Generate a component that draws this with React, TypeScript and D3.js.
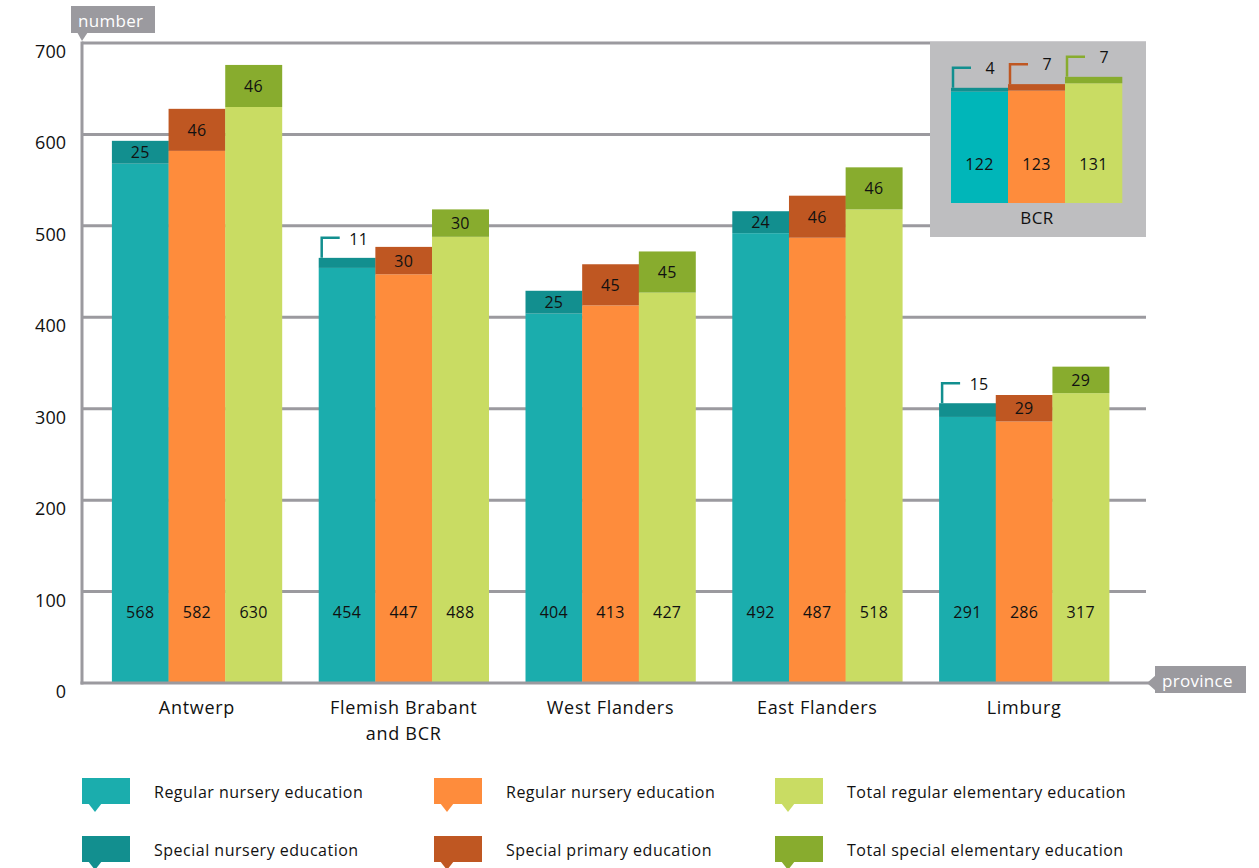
import React from "react";
import * as d3 from "d3";

const provinces = ["Antwerp", "Flemish Brabant|and BCR", "West Flanders", "East Flanders", "Limburg"];
const seriesKeys = ["nursery", "primary", "elementary"];
const regularNursery = [568, 454, 404, 492, 291];
const specialNursery = [25, 11, 25, 24, 15];
const regularPrimary = [582, 447, 413, 487, 286];
const specialPrimary = [46, 30, 45, 46, 29];
const regularElementary = [630, 488, 427, 518, 317];
const specialElementary = [46, 30, 45, 46, 29];
const bcrRegular = [122, 123, 131];
const bcrSpecial = [4, 7, 7];
const yTicks = [0, 100, 200, 300, 400, 500, 600, 700];
const legendLabels = [
  ["Regular nursery education", "Special nursery education"],
  ["Regular nursery education", "Special primary education"],
  ["Total regular elementary education", "Total special elementary education"],
];

const regularColors = ["#1badad", "#fe8c3c", "#c9dc63"];
const specialColors = ["#128f8f", "#bf5722", "#88ac2e"];
const insetRegularColors = ["#00b6b9", "#fe8c3c", "#c9dc63"];
const gridColor = "#9b9a9f";
const FONT = "'Open Sans', 'Noto Sans', sans-serif";

export default function App() {
  const W = 1259, H = 868;
  const y = d3.scaleLinear().domain([0, 700]).range([683, 43]);
  const x0 = d3.scaleBand<string>().domain(provinces).range([93.5, 1127.5]).paddingInner(0.178).paddingOuter(0.089);
  const x1 = d3.scaleBand<string>().domain(seriesKeys).range([0, x0.bandwidth()]);
  const regular = [regularNursery, regularPrimary, regularElementary];
  const special = [specialNursery, specialPrimary, specialElementary];

  // inset
  const insetBase = 203;
  const yIn = (v: number) => insetBase - (683 - y(v));
  const xIn = d3.scaleBand<string>().domain(seriesKeys).range([951, 1122]);

  const bars: React.ReactNode[] = [];
  provinces.forEach((p, i) => {
    seriesKeys.forEach((k, s) => {
      const bx = (x0(p) as number) + (x1(k) as number);
      const bw = x1.bandwidth();
      const r = regular[s][i];
      const sp = special[s][i];
      const yr = y(r);
      const yt = y(r + sp);
      bars.push(<rect key={`r${i}${s}`} x={bx} y={yr} width={bw + 0.3} height={y(0) - yr} fill={regularColors[s]} />);
      bars.push(<rect key={`s${i}${s}`} x={bx} y={yt} width={bw + 0.3} height={yr - yt} fill={specialColors[s]} />);
      bars.push(
        <text key={`tr${i}${s}`} x={bx + bw / 2} y={612} textAnchor="middle" dominantBaseline="central" fontSize={16} letterSpacing={0.3} fill="#111">{r}</text>
      );
      if (sp >= 20) {
        bars.push(
          <text key={`ts${i}${s}`} x={bx + bw / 2} y={(yr + yt) / 2} textAnchor="middle" dominantBaseline="central" fontSize={16} letterSpacing={0.3} fill="#111">{sp}</text>
        );
      } else {
        const lx = bx + 3;
        bars.push(
          <path key={`cl${i}${s}`} d={`M${lx},${yt} V${yt - 20} H${lx + 18}`} fill="none" stroke={specialColors[s]} strokeWidth={2.5} />
        );
        bars.push(
          <text key={`ts${i}${s}`} x={lx + 37} y={yt - 19} textAnchor="middle" dominantBaseline="central" fontSize={16} letterSpacing={0.3} fill="#111">{sp}</text>
        );
      }
    });
  });

  const inset: React.ReactNode[] = [];
  seriesKeys.forEach((k, s) => {
    const bx = xIn(k) as number;
    const bw = xIn.bandwidth();
    const r = bcrRegular[s];
    const sp = bcrSpecial[s];
    const yr = yIn(r);
    const yt = yIn(r + sp);
    inset.push(<rect key={`ir${s}`} x={bx} y={yr} width={bw + 0.3} height={insetBase - yr} fill={insetRegularColors[s]} />);
    inset.push(<rect key={`is${s}`} x={bx} y={yt} width={bw + 0.3} height={yr - yt} fill={specialColors[s]} />);
    inset.push(<text key={`itr${s}`} x={bx + bw / 2} y={164} textAnchor="middle" dominantBaseline="central" fontSize={16} letterSpacing={0.3} fill="#111">{r}</text>);
    const lx = bx + 2;
    inset.push(<path key={`icl${s}`} d={`M${lx},${yt} V${yt - 20} H${lx + 18}`} fill="none" stroke={specialColors[s]} strokeWidth={2.5} />);
    inset.push(<text key={`its${s}`} x={lx + 37} y={yt - 20} textAnchor="middle" dominantBaseline="central" fontSize={16} fill="#111">{sp}</text>);
  });

  return (
    <svg width={W} height={H} style={{ position: "absolute", left: 0, top: 0, fontFamily: FONT }}>
      <rect x={0} y={0} width={W} height={H} fill="#fff" />
      {yTicks.filter((t) => t > 0).map((t) => (
        <line key={`g${t}`} x1={82} x2={1146} y1={y(t)} y2={y(t)} stroke={gridColor} strokeWidth={3} />
      ))}
      {yTicks.map((t) => (
        <text key={`yt${t}`} x={66} y={y(t) + 8} textAnchor="end" dominantBaseline="central" fontSize={18} fill="#111">{t}</text>
      ))}
      {bars}
      <line x1={82} x2={82} y1={41.5} y2={684.5} stroke={gridColor} strokeWidth={3} />
      <line x1={80.5} x2={1150} y1={683} y2={683} stroke={gridColor} strokeWidth={3} />
      {/* number label */}
      <rect x={71} y={6} width={84} height={27} fill={gridColor} />
      <path d="M77,32 L88,32 L82,41 Z" fill={gridColor} />
      <text x={78} y={20} dominantBaseline="central" fontSize={17} letterSpacing={0.3} fill="#fff">number</text>
      {/* province label */}
      <rect x={1155} y={666} width={91} height={27} fill={gridColor} />
      <path d="M1156,675 L1156,691 L1147,683 Z" fill={gridColor} />
      <text x={1162} y={680} dominantBaseline="central" fontSize={17} letterSpacing={0.3} fill="#fff">province</text>
      {provinces.map((p) => {
        const cx = (x0(p) as number) + x0.bandwidth() / 2;
        const lines = p.split("|");
        return (
          <text key={`c${p}`} x={cx} textAnchor="middle" fontSize={18} letterSpacing={0.7} fill="#111">
            {lines.map((l, j) => (
              <tspan key={j} x={cx} y={714 + j * 26}>{l}</tspan>
            ))}
          </text>
        );
      })}
      {/* inset */}
      <rect x={930} y={42} width={216} height={195} fill="#bebec0" />
      {inset}
      <text x={1037} y={217} textAnchor="middle" dominantBaseline="central" fontSize={17} letterSpacing={0.5} fill="#111">BCR</text>
      {/* legend */}
      {legendLabels.map((col, c) =>
        col.map((lab, r) => {
          const lx = [82, 434, 775][c];
          const ly = 778 + r * 58;
          const color = r === 0 ? regularColors[c] : specialColors[c];
          return (
            <g key={`l${c}${r}`}>
              <rect x={lx} y={ly} width={48} height={26} fill={color} />
              <path d={`M${lx + 6},${ly + 25} L${lx + 20},${ly + 25} L${lx + 13},${ly + 34} Z`} fill={color} />
              <text x={lx + 72} y={ly + 14} dominantBaseline="central" fontSize={16} letterSpacing={0.5} fill="#111">{lab}</text>
            </g>
          );
        })
      )}
    </svg>
  );
}
